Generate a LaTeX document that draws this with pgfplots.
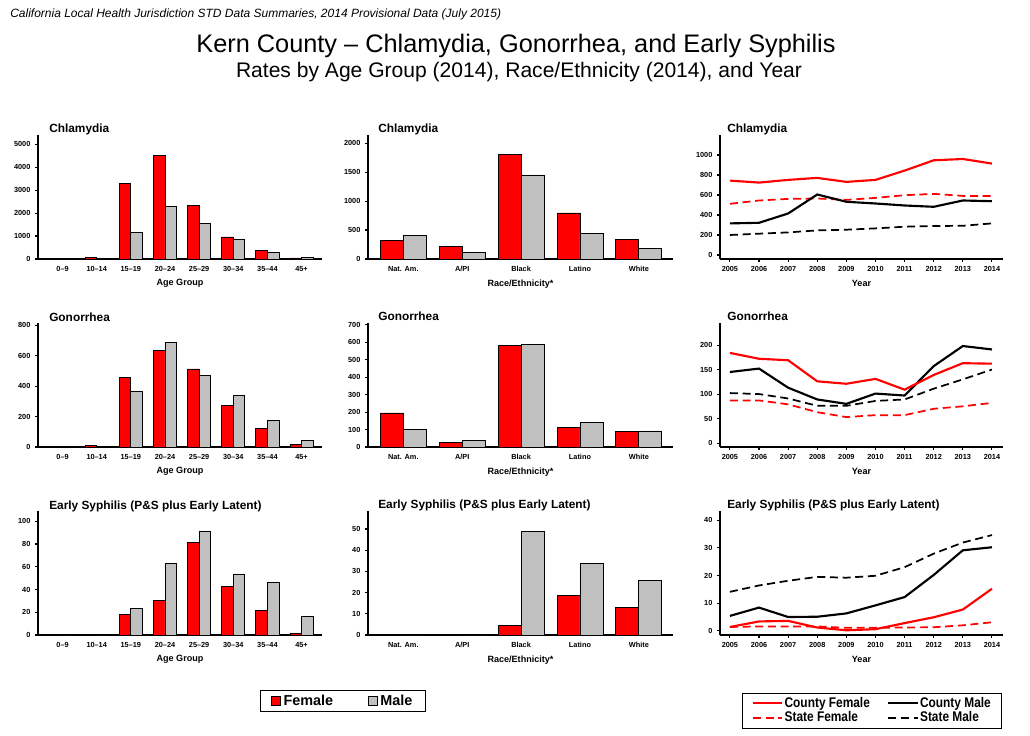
\documentclass[border=0pt]{standalone}
\usepackage{fontspec}
\setmainfont{Liberation Sans}
\newfontfamily\narrowfont[FakeStretch=0.85]{Liberation Sans}
\usepackage{pgfplots}
\usepackage{pgfplotstable}
\pgfplotsset{compat=1.18}

\definecolor{fem}{RGB}{255,0,0}
\definecolor{mal}{RGB}{192,192,192}

% age group bars: x female male
\pgfplotstableread{
x f m
0 15 10
1 80 15
2 3280 1140
3 4520 2270
4 2350 1530
5 960 860
6 370 290
7 45 65
}\chlage
\pgfplotstableread{
x f m
0 325 410
1 220 110
2 1800 1450
3 795 445
4 340 180
}\chlrace
\pgfplotstableread{
yr cf cm sf sm
2005 744 316 512 200
2006 724 322 545 213
2007 751 415 561 226
2008 771 605 565 246
2009 731 532 551 253
2010 751 515 571 266
2011 844 495 598 283
2012 947 482 611 290
2013 960 545 591 292
2014 914 538 591 316
}\chlyear

\pgfplotstableread{
x f m
0 2 1
1 13 4
2 455 365
3 634 687
4 513 471
5 275 340
6 120 175
7 18 45
}\gonage
\pgfplotstableread{
x f m
0 195 102
1 25 40
2 580 588
3 110 140
4 88 92
}\gonrace
\pgfplotstableread{
yr cf cm sf sm
2005 184 145 87 102
2006 172 152 87 100
2007 169 113 79 91
2008 126 89 63 76
2009 121 80 53 76
2010 131 101 57 86
2011 109 97 57 89
2012 139 157 70 111
2013 163 198 75 130
2014 162 191 82 150
}\gonyear

\pgfplotstableread{
x f m
0 0 0
1 0 0
2 18 23
3 30.5 63
4 81 91.5
5 43 53.7
6 21.4 46
7 1.5 16.4
}\syphage
\pgfplotstableread{
x f m
0 0 0
1 0 0
2 4.7 49
3 18.7 33.8
4 13.2 25.8
}\syphrace
\pgfplotstableread{
yr cf cm sf sm
2005 1.4 5.4 1.4 14.1
2006 3.4 8.4 1.6 16.4
2007 3.6 5.0 1.6 18.1
2008 1.2 5.1 1.6 19.5
2009 0.2 6.3 1.1 19.2
2010 0.6 9.2 1.1 19.9
2011 2.8 12.2 1.2 23.0
2012 4.9 20.2 1.3 27.9
2013 7.7 29.1 2.0 31.9
2014 15.2 30.2 3.1 34.6
}\syphyear

\pgfplotsset{
  panel/.style={
    scale only axis, height=93pt,
    axis x line*=bottom, axis y line*=left,
    axis line style={line width=1.2pt},
    tick align=outside,
    major tick length=2.2pt,
    every tick/.style={black, line width=0.8pt},
    ticklabel style={font=\bfseries\fontsize{5.5}{6}\selectfont},
    /pgf/number format/assume math mode=true,
    /pgf/number format/1000 sep={},
    every axis x label/.style={at={(axis description cs:0.5,0)}, anchor=center,
      yshift=-18.5pt, font=\bfseries\fontsize{6.8}{8}\selectfont},
    every axis title/.style={at={(axis description cs:0,1)}, anchor=base west,
      yshift=1.5pt, inner sep=0pt, font=\bfseries\fontsize{8.9}{10}\selectfont},
    ymin=0,
  },
  agebars/.style={panel, width=213pt, xmin=-0.72, xmax=7.6, xtick={0,...,7},
    xticklabels={0–9,10–14,15–19,20–24,25–29,30–34,35–44,45+},
    xlabel={Age Group}, major x tick style={draw=none},
    title style={xshift=8.25pt}},
  racebars/.style={panel, width=228.75pt, xmin=-0.6, xmax=4.58, xtick={0,...,4},
    xticklabels={Nat. Am., A/PI, Black, Latino, White},
    xlabel={Race/Ethnicity*}, major x tick style={draw=none},
    title style={xshift=7.5pt}},
  years/.style={panel, width=212.25pt, xmin=2004.66, xmax=2014.38,
    xtick={2005,...,2014}, xlabel={Year}, title style={xshift=5.25pt},
    legend image code/.code={\draw[#1] (0pt,0pt) -- (22pt,0pt);}},
  sqleg/.style={legend image code/.code={\draw[#1] (0pt,-3.4pt) rectangle (6.8pt,3.4pt);}},
  fbar/.style={ybar, fill=fem, draw=black, line width=0.6pt, bar width=#1, bar shift=-#1/2, sqleg},
  mbar/.style={ybar, fill=mal, draw=black, line width=0.6pt, bar width=#1, bar shift=#1/2, sqleg},
  cfem/.style={fem, line width=1.6pt},
  cmal/.style={black, line width=1.6pt},
  sfem/.style={fem, line width=1.3pt, dash pattern=on 6pt off 3.5pt},
  smal/.style={black, line width=1.3pt, dash pattern=on 6pt off 3.5pt},
}

\begin{document}
\begin{tikzpicture}
\path[use as bounding box] (0,0) rectangle (772.5pt,551.25pt);

\node[anchor=base west, inner sep=0pt, font=\itshape\fontsize{9}{10}\selectfont]
  at (7.5pt,537.75pt) {California Local Health Jurisdiction STD Data Summaries, 2014 Provisional Data (July 2015)};
\node[anchor=base, inner sep=0pt, font=\fontsize{19}{22}\selectfont]
  at (387pt,511.5pt) {Kern County – Chlamydia, Gonorrhea, and Early Syphilis};
\node[anchor=base, inner sep=0pt, font=\fontsize{15.8}{18}\selectfont]
  at (389.25pt,492.75pt) {Rates by Age Group (2014), Race/Ethnicity (2014), and Year};

% ---- row 1: Chlamydia
\begin{axis}[agebars, at={(28.5pt,357pt)}, anchor=south west,
  ymax=5400, ytick={0,1000,...,5000}, title={Chlamydia}]
  \addplot[fbar=0.34] table[x=x,y=f] {\chlage};
  \addplot[mbar=0.34] table[x=x,y=m] {\chlage};
\end{axis}
\begin{axis}[racebars, at={(276pt,357pt)}, anchor=south west,
  ymax=2140, ytick={0,500,...,2000}, title={Chlamydia}]
  \addplot[fbar=0.39] table[x=x,y=f] {\chlrace};
  \addplot[mbar=0.39] table[x=x,y=m] {\chlrace};
\end{axis}
\begin{axis}[years, at={(540pt,357pt)}, anchor=south west,
  ymin=-40, ymax=1200, ytick={0,200,...,1000}, title={Chlamydia}]
  \addplot[sfem] table[x=yr,y=sf] {\chlyear};
  \addplot[smal] table[x=yr,y=sm] {\chlyear};
  \addplot[cmal] table[x=yr,y=cm] {\chlyear};
  \addplot[cfem] table[x=yr,y=cf] {\chlyear};
\end{axis}

% ---- row 2: Gonorrhea
\begin{axis}[agebars, at={(28.5pt,216pt)}, anchor=south west,
  ymax=815, ytick={0,200,...,800}, title={Gonorrhea}]
  \addplot[fbar=0.34] table[x=x,y=f] {\gonage};
  \addplot[mbar=0.34] table[x=x,y=m] {\gonage};
\end{axis}
\begin{axis}[racebars, at={(276pt,216pt)}, anchor=south west,
  ymax=710, ytick={0,100,...,700}, title={Gonorrhea}]
  \addplot[fbar=0.39] table[x=x,y=f] {\gonrace};
  \addplot[mbar=0.39] table[x=x,y=m] {\gonrace};
\end{axis}
\begin{axis}[years, at={(540pt,216pt)}, anchor=south west,
  ymin=-8, ymax=245, ytick={0,50,...,200}, title={Gonorrhea}]
  \addplot[sfem] table[x=yr,y=sf] {\gonyear};
  \addplot[smal] table[x=yr,y=sm] {\gonyear};
  \addplot[cmal] table[x=yr,y=cm] {\gonyear};
  \addplot[cfem] table[x=yr,y=cf] {\gonyear};
\end{axis}

% ---- row 3: Early Syphilis
\begin{axis}[agebars, at={(28.5pt,75pt)}, anchor=south west,
  ymax=109, ytick={0,20,...,100}, title={Early Syphilis (P\&S plus Early Latent)},
  legend columns=2, legend cell align=left,
  legend style={at={(axis description cs:1.074,-0.532)}, anchor=center,
    draw=black, line width=0.6pt, inner xsep=8pt, inner ysep=1pt,
    font=\bfseries\fontsize{10.8}{12}\selectfont,
    /tikz/every even column/.append style={column sep=24pt}}]
  \addplot[fbar=0.34] table[x=x,y=f] {\syphage};
  \addlegendentry{Female}
  \addplot[mbar=0.34] table[x=x,y=m] {\syphage};
  \addlegendentry{Male}
\end{axis}
\begin{axis}[racebars, at={(276pt,75pt)}, anchor=south west,
  ymax=58.5, ytick={0,10,...,50}, title={Early Syphilis (P\&S plus Early Latent)}]
  \addplot[fbar=0.39] table[x=x,y=f] {\syphrace};
  \addplot[mbar=0.39] table[x=x,y=m] {\syphrace};
\end{axis}
\begin{axis}[years, at={(540pt,75pt)}, anchor=south west,
  ymin=-1.5, ymax=43.3, ytick={0,10,...,40}, title={Early Syphilis (P\&S plus Early Latent)},
  legend columns=2, legend cell align=left,
  legend style={at={(axis description cs:0.537,-0.609)}, anchor=center,
    draw=black, line width=0.6pt, inner xsep=7pt, inner ysep=2pt,
    font=\narrowfont\bfseries\fontsize{10.5}{11}\selectfont,
    nodes={inner sep=1pt},
    /tikz/every even column/.append style={column sep=12pt}}]
  \addplot[cfem] table[x=yr,y=cf] {\syphyear};
  \addlegendentry{County Female}
  \addplot[cmal] table[x=yr,y=cm] {\syphyear};
  \addlegendentry{County Male}
  \addplot[sfem] table[x=yr,y=sf] {\syphyear};
  \addlegendentry{State Female}
  \addplot[smal] table[x=yr,y=sm] {\syphyear};
  \addlegendentry{State Male}
\end{axis}
\end{tikzpicture}
\end{document}
